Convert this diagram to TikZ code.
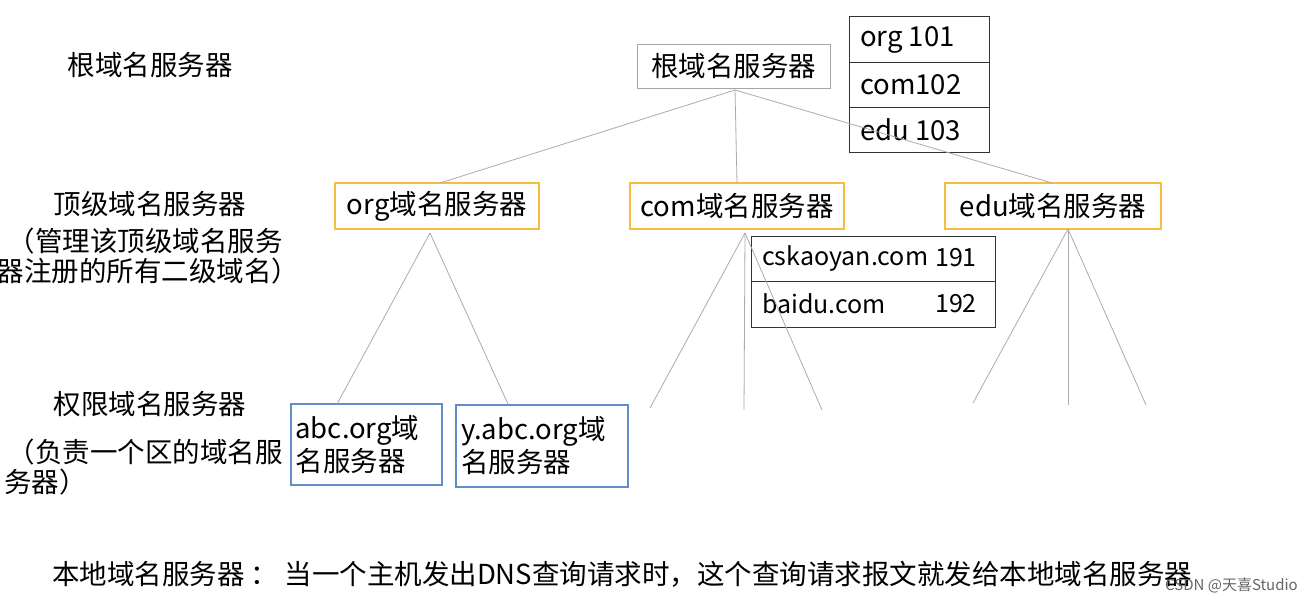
\documentclass[tikz,border=0pt]{standalone}
\usepackage{fontspec}
\setmainfont{Noto Sans CJK SC}
\definecolor{ob}{RGB}{245,190,60}
\definecolor{bb}{RGB}{100,140,200}
\begin{document}
\begin{tikzpicture}[x=1pt,y=-1pt,
  t/.style={font=\fontsize{27.5}{33}\selectfont, inner sep=0pt},
  gbox/.style={draw=gray!70, line width=0.8pt},
  obox/.style={draw=ob, line width=1.2pt},
  bbox/.style={draw=bb, line width=1.2pt},
  kbox/.style={draw=black!80, line width=0.8pt},
  ln/.style={draw=gray!65, line width=0.8pt}]
\useasboundingbox (0,0) rectangle (1311,605);
\fill[white] (0,0) rectangle (1311,605);
% left labels
\node[t] (l1) at (150,65) {根域名服务器};
\node[t] (l2) at (150,204) {顶级域名服务器};
\node[t] (l3) at (145,241) {（管理该顶级域名服务};
\node[t] (l4) at (148,271) {器注册的所有二级域名）};
\node[t] (l5) at (150,404) {权限域名服务器};
\node[t] (l6) at (145,452) {（负责一个区的域名服};
\node[t,anchor=west] (l7) at (4,482) {务器）};
% root
\node[gbox,minimum width=193pt,minimum height=44pt,t] (root) at (733.5,66) {根域名服务器};
% table 1
\draw[kbox] (849,16) rectangle (989,152);
\draw[kbox] (849,62) -- (989,62) (849,107) -- (989,107);
\node[t,anchor=west] (r1) at (860,40) {org 101};
\node[t,anchor=west] (r2) at (860,85) {com102};
\node[t,anchor=west] (r3) at (860,130) {edu 103};
% TLD
\node[obox,minimum width=204pt,minimum height=46pt,t] (org) at (437,206) {org域名服务器};
\node[obox,minimum width=214pt,minimum height=46pt,t] (com) at (737,206) {com域名服务器};
\node[obox,minimum width=216pt,minimum height=46pt,t] (edu) at (1053,206) {edu域名服务器};
\coordinate (rb) at (735,90);
\draw[ln] (rb) -- (440,183);
\draw[ln] (rb) -- (737,183);
\draw[ln] (rb) -- (1052,183);
% authority
\node[bbox,minimum width=151pt,minimum height=81pt,t,align=left,text width=142pt] (abc) at (366.5,444.5) {abc.org域\\名服务器};
\node[bbox,minimum width=172pt,minimum height=82pt,t,align=left,text width=162pt] (yabc) at (542,446) {y.abc.org域\\名服务器};
\coordinate (ob) at (430,233);
\draw[ln] (ob) -- (337,404);
\draw[ln] (ob) -- (508,404);
% table 2
\fill[white] (751,236) rectangle (995,327);
\draw[kbox] (751,236) rectangle (995,327);
\draw[kbox] (751,281) -- (995,281);
\node[t,anchor=west,font=\fontsize{25}{30}\selectfont] (s1) at (762,258) {cskaoyan.com};
\node[t,anchor=west,font=\fontsize{25}{30}\selectfont] (s1n) at (935,258) {191};
\node[t,anchor=west,font=\fontsize{25}{30}\selectfont] (s2) at (762,304) {baidu.com};
\node[t,anchor=west,font=\fontsize{25}{30}\selectfont] (s2n) at (935,304) {192};
% com subtree
\coordinate (cb) at (745,233);
\coordinate (c1) at (650,408);
\coordinate (c2) at (744,410);
\coordinate (c3) at (822,410);
\draw[ln] (cb) -- (c1); \draw[ln] (cb) -- (c2); \draw[ln] (cb) -- (c3);
% edu subtree
\coordinate (eb) at (1068,229);
\coordinate (e1) at (973,403);
\coordinate (e2) at (1068,405);
\coordinate (e3) at (1146,405);
\draw[ln] (eb) -- (e1); \draw[ln] (eb) -- (e2); \draw[ln] (eb) -- (e3);
% bottom
\node[t,anchor=west] (bot) at (52,574) {本地域名服务器 ： 当一个主机发出DNS查询请求时，这个查询请求报文就发给本地域名服务器};
\node[font=\fontsize{15}{16}\selectfont,anchor=east,inner sep=0pt,text=gray!80!black] (wm) at (1298,585) {CSDN @天喜Studio};
\end{tikzpicture}
\end{document}
